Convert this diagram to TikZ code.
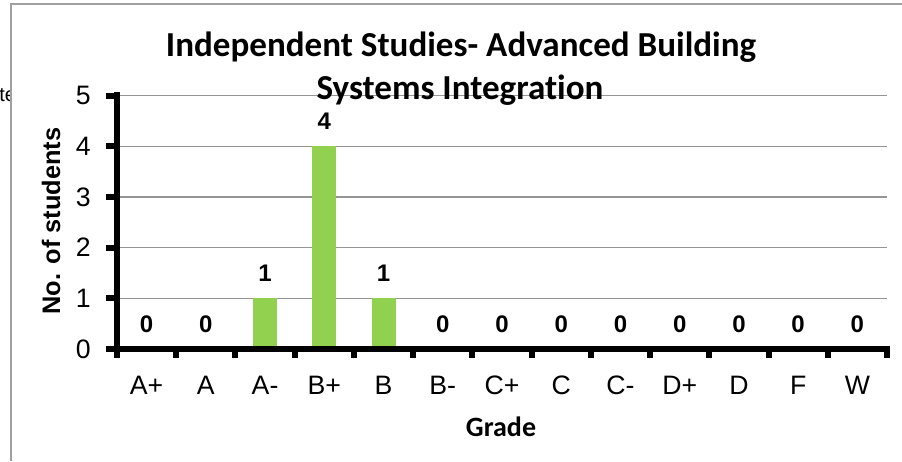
\documentclass[tikz,border=0pt]{standalone}
\usepackage{fontspec}
\setmainfont{Liberation Sans}
\newfontfamily\calibfont{Carlito}[Ligatures=NoCommon]
\definecolor{bargreen}{HTML}{92D050}
\definecolor{gridgray}{HTML}{959595}
\definecolor{framegray}{HTML}{A0A0A0}
\newcommand\tickfont{\fontsize{20}{23}\selectfont}
\newcommand\datafont{\bfseries\fontsize{18}{21}\selectfont}
\begin{document}
\begin{tikzpicture}[x=0.75pt,y=-0.75pt,
    ticklab/.style={font=\tickfont, inner sep=0pt},
    datalab/.style={font=\datafont, inner sep=0pt},
    titlelab/.style={font=\calibfont\bfseries\fontsize{26.3}{30}\selectfont, inner sep=0pt, anchor=base},
    gridline/.style={gridgray, line width=0.9pt},
    axisline/.style={black, line width=4.5pt},
    bar/.style={fill=bargreen}]
    \useasboundingbox (0,0) rectangle (902,461);

        % text left of the chart, cut off by the chart area
        \node[anchor=base west, inner sep=0pt, font=\fontsize{15}{17}\selectfont] (cut) at (-1,101) {te};
        \fill[white] (11,4) rectangle (902,461);
        \draw[framegray, line width=0.9pt] (11,461) -- (11,4) -- (902,4);

        % grid
        \foreach \v in {1,...,5}
            \draw[gridline] (117,349-50.7*\v) -- (887,349-50.7*\v);

        % bars and data labels
        \foreach \g/\v [count=\i from 0] in {A+/0,A/0,A-/1,B+/4,B/1,B-/0,C+/0,C/0,C-/0,D+/0,D/0,F/0,W/0} {
            \pgfmathsetmacro{\cx}{117+59.23*(\i+0.5)}
            \pgfmathsetmacro{\ytop}{349-50.7*\v}
            \ifnum\v>0
                \fill[bar] (\cx-12,349) rectangle (\cx+12,\ytop);
            \fi
            \node[datalab] (val\i) at (\cx,\ytop-25) {\v};
            \node[ticklab] (cat\i) at (\cx,385) {\g};
        }

        % axes
        \draw[axisline, line cap=rect] (117,95) -- (117,349) -- (887,349);
        \foreach \v in {0,...,5} {
            \draw[axisline] (106,349-50.7*\v) -- (117,349-50.7*\v);
            \node[ticklab, anchor=east] (ytick\v) at (91,349-50.7*\v) {\v};
        }
        \foreach \i in {0,...,13}
            \draw[axisline] (117+59.23*\i,349) -- (117+59.23*\i,358);

        % titles
        \node[titlelab] (title1) at (461,56) {Independent Studies- Advanced Building};
        \node[titlelab] (title2) at (460,99) {Systems Integration};
        \node[font=\bfseries\fontsize{19}{22}\selectfont, inner sep=0pt, rotate=90] (ytitle) at (51,221) {No. of students};
        \node[font=\calibfont\bfseries\fontsize{21}{24}\selectfont, inner sep=0pt] (xtitle) at (501,427) {Grade};
\end{tikzpicture}
\end{document}
